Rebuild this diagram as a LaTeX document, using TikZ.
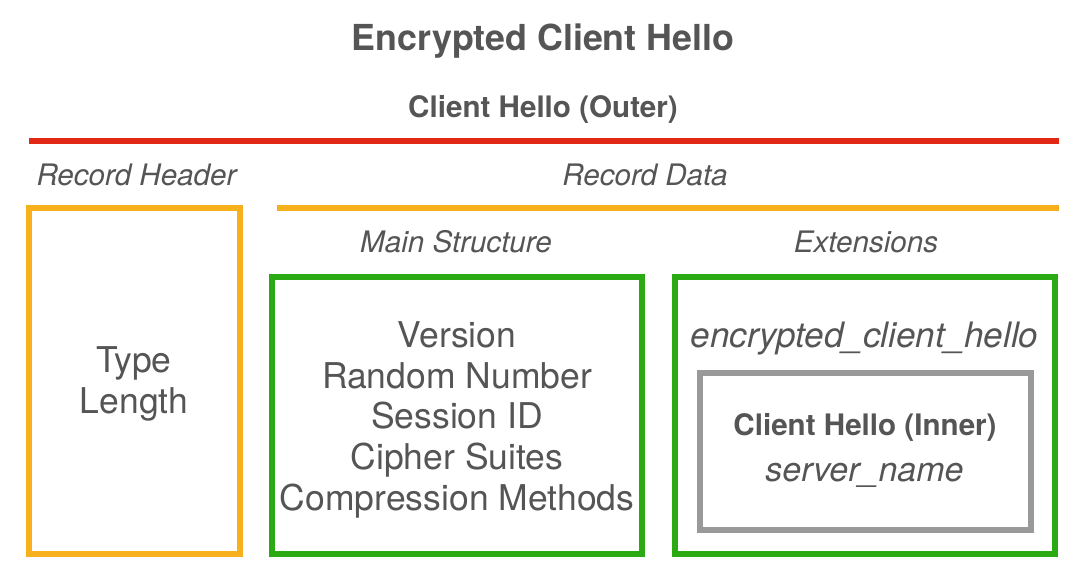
\documentclass[tikz,border=0pt]{standalone}
\usepackage{fontspec}
\setmainfont{TeX Gyre Heros}
\definecolor{txt}{HTML}{555555}
\definecolor{cred}{HTML}{E22916}
\definecolor{corange}{HTML}{F6B11D}
\definecolor{cgreen}{HTML}{2BAA14}
\definecolor{cgray}{HTML}{999999}
\begin{document}
\begin{tikzpicture}[x=1pt,y=-1pt,
  lbl/.style={text=txt, inner sep=0pt, anchor=base},
  big/.style={lbl, font=\fontsize{35.5}{41}\selectfont},
  bigit/.style={lbl, font=\fontsize{35}{41}\selectfont\itshape},
  mid/.style={lbl, font=\fontsize{29.6}{35}\selectfont\itshape},
  midbf/.style={lbl, font=\fontsize{29.6}{35}\selectfont\bfseries},
  frame/.style={draw=#1, line width=6.5pt, inner sep=0pt, fill=none},
  rule/.style={draw=#1, line width=6pt}
]
\useasboundingbox[fill=white] (0,0) rectangle (1089,582);

% titles
\node[lbl, font=\fontsize{35.8}{42}\selectfont\bfseries] (title) at (543,50) {Encrypted Client Hello};
\node[midbf] (outer) at (543,117.5) {Client Hello (Outer)};

% rules
\coordinate (r1) at (29,141);
\coordinate (r2) at (1059,141);
\draw[rule=cred] (r1) -- (r2);
\coordinate (o1) at (277,208);
\coordinate (o2) at (1059,208);
\draw[rule=corange] (o1) -- (o2);

% section labels
\node[mid] (rhlbl) at (136.5,185) {Record Header};
\node[mid] (rdlbl) at (645,185) {Record Data};
\node[mid] (mslbl) at (456,252) {Main Structure};
\node[mid] (exlbl) at (866,252) {Extensions};

% boxes
\node[frame=corange, minimum width=211pt, minimum height=346pt] (rhbox) at (134.5,381) {};
\node[frame=cgreen, minimum width=370pt, minimum height=277pt] (msbox) at (457,415.5) {};
\node[frame=cgreen, minimum width=380pt, minimum height=277pt] (exbox) at (865,415.5) {};
\node[frame=cgray, minimum width=331pt, minimum height=157pt] (inbox) at (865.5,451.5) {};

% record header content
\node[big] (type) at (134,372.7) {Type};
\node[big] (length) at (134,413.3) {Length};

% main structure content
\node[big] (v1) at (457,347.3) {Version};
\node[big] (v2) at (457,388) {Random Number};
\node[big] (v3) at (457,428.7) {Session ID};
\node[big] (v4) at (457,469.3) {Cipher Suites};
\node[big] (v5) at (457,510) {Compression Methods};

% extensions content
\node[bigit] (ech) at (864.5,347) {encrypted\_client\_hello};
\node[midbf] (inner) at (865,435) {Client Hello (Inner)};
\node[lbl, font=\fontsize{34}{40}\selectfont\itshape] (sni) at (864.5,481.5) {server\_name};
\end{tikzpicture}
\end{document}
